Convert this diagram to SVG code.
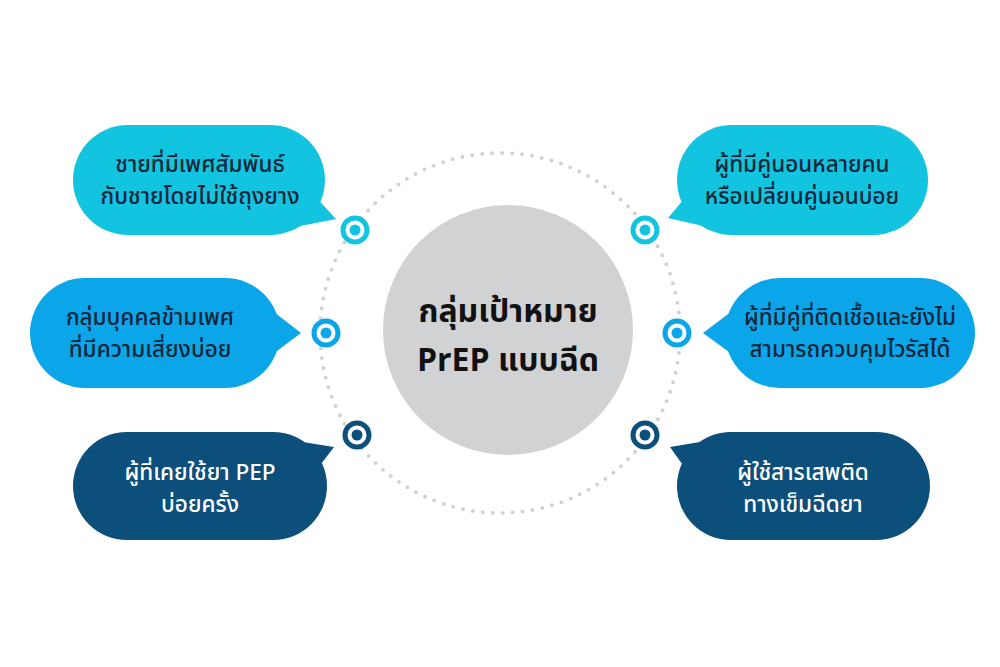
<svg xmlns="http://www.w3.org/2000/svg" width="1000" height="667" viewBox="0 0 1000 667">
<style>
.t{font-family:"Noto Sans Thai","Noto Sans","DejaVu Sans",sans-serif;font-size:22.5px;font-weight:500;text-anchor:middle}
.d{fill:#15263a}.w{fill:#ffffff}
.c1{fill:#12c4df}.c2{fill:#0ba6e9}.c3{fill:#0c4f7b}
.ring{fill:#fff;stroke-width:5}
</style>
<rect width="1000" height="667" fill="#fff"/>
<g id="connectors">
<circle cx="500" cy="333" r="180" fill="none" stroke="#d0d2d4" stroke-width="4" stroke-linecap="round" stroke-dasharray="0 10"/>
</g>
<g id="center">
<circle cx="508" cy="330" r="125" fill="#d1d2d4"/>
<text x="508" y="322" font-family="Noto Sans Thai,Noto Sans,DejaVu Sans,sans-serif" font-size="32" font-weight="bold" text-anchor="middle" fill="#111">กลุ่มเป้าหมาย</text>
<text x="508" y="371" font-family="Noto Sans Thai,Noto Sans,DejaVu Sans,sans-serif" font-size="32" font-weight="bold" text-anchor="middle" fill="#111">PrEP แบบฉีด</text>
</g>
<g id="n1">
<rect x="73" y="125" width="252" height="110" rx="55" class="c1"/>
<polygon points="300,180 336,219 290,228" class="c1"/>
<text x="200" y="172" class="t d">ชายที่มีเพศสัมพันธ์</text>
<text x="200" y="204" class="t d">กับชายโดยไม่ใช้ถุงยาง</text>
<circle cx="355" cy="230" r="12" class="ring" stroke="#12c4df"/><circle cx="355" cy="230" r="5.5" fill="#12c4df"/>
</g>
<g id="n2">
<rect x="30" y="278" width="250" height="110" rx="55" class="c2"/>
<polygon points="265,305 301,333 265,360" class="c2"/>
<text x="150" y="325" class="t d">กลุ่มบุคคลข้ามเพศ</text>
<text x="150" y="357" class="t d">ที่มีความเสี่ยงบ่อย</text>
<circle cx="326" cy="333" r="12" class="ring" stroke="#0ba6e9"/><circle cx="326" cy="333" r="5.5" fill="#0ba6e9"/>
</g>
<g id="n3">
<rect x="73" y="432" width="254" height="108" rx="54" class="c3"/>
<polygon points="290,440 334,447 305,485" class="c3"/>
<text x="200" y="480" class="t w">ผู้ที่เคยใช้ยา PEP</text>
<text x="200" y="512" class="t w">บ่อยครั้ง</text>
<circle cx="357" cy="435" r="12" class="ring" stroke="#0c4f7b"/><circle cx="357" cy="435" r="5.5" fill="#0c4f7b"/>
</g>
<g id="n4">
<rect x="677" y="125" width="251" height="110" rx="55" class="c1"/>
<polygon points="700,180 668,218 712,228" class="c1"/>
<text x="802" y="172" class="t d">ผู้ที่มีคู่นอนหลายคน</text>
<text x="802" y="204" class="t d">หรือเปลี่ยนคู่นอนบ่อย</text>
<circle cx="645" cy="230" r="12" class="ring" stroke="#12c4df"/><circle cx="645" cy="230" r="5.5" fill="#12c4df"/>
</g>
<g id="n5">
<rect x="725" y="278" width="250" height="110" rx="55" class="c2"/>
<polygon points="740,305 703,333 740,360" class="c2"/>
<text x="850" y="325" class="t d">ผู้ที่มีคู่ที่ติดเชื้อและยังไม่</text>
<text x="850" y="357" class="t d">สามารถควบคุมไวรัสได้</text>
<circle cx="677" cy="333" r="12" class="ring" stroke="#0ba6e9"/><circle cx="677" cy="333" r="5.5" fill="#0ba6e9"/>
</g>
<g id="n6">
<rect x="677" y="432" width="253" height="108" rx="54" class="c3"/>
<polygon points="712,440 670,447 697,485" class="c3"/>
<text x="803" y="480" class="t w">ผู้ใช้สารเสพติด</text>
<text x="803" y="512" class="t w">ทางเข็มฉีดยา</text>
<circle cx="645" cy="435" r="12" class="ring" stroke="#0c4f7b"/><circle cx="645" cy="435" r="5.5" fill="#0c4f7b"/>
</g>
</svg>
